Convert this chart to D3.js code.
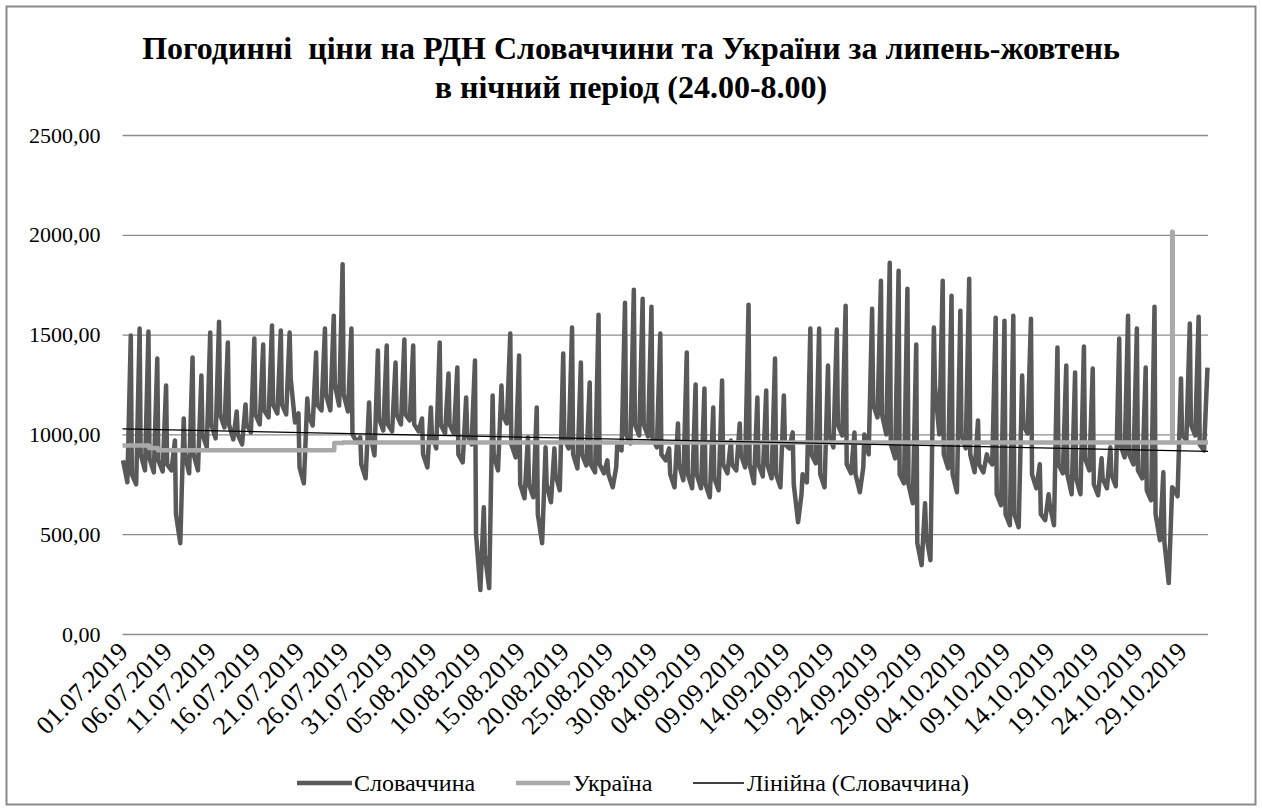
<!DOCTYPE html>
<html>
<head>
<meta charset="utf-8">
<script src="https://cdn.jsdelivr.net/npm/d3@7/dist/d3.min.js"></script>
<style>
  body { margin: 0; background: #fff; }
  svg text { font-family: "Liberation Serif", "Times New Roman", serif; fill: #000; }
</style>
</head>
<body>
<svg id="chart" width="1262" height="811"></svg>
<script>
// night hours 24.00-8.00, 01.07.2019 - 31.10.2019 (123 days)
// Slovakia: value at hour 1, night minimum, value at hour 8
const skHour1 = [870,800,900,880,870,850,600,900,900,1000,1050,1100,1050,1000,1050,1100,1120,1150,1150,1280,
  835,1100,1150,1200,1250,1200,1000,850,1000,1080,1050,1100,1100,1050,900,1000,1050,1050,900,1000,
  500,400,900,1100,950,750,750,600,750,800,980,900,900,850,850,800,950,1000,1050,1050,
  980,900,800,850,800,800,750,780,850,850,900,850,850,850,800,950,750,800,900,800,
  1000,1050,850,800,1000,1150,1100,950,800,750,455,500,1245,900,800,1000,900,850,880,700,
  600,600,1050,800,600,650,850,800,780,880,750,780,800,950,900,820,720,600,460,730,
  1000,1050,950];
const skMin = [760,750,820,810,815,820,455,805,820,935,980,1035,975,950,1010,1050,1085,1105,1100,1060,
  755,1045,1120,1120,1145,1115,960,780,895,1020,1015,1050,1070,1015,835,930,1005,1005,860,950,
  220,230,820,1055,885,680,685,455,660,720,930,830,845,810,805,735,920,955,995,990,
  935,870,735,770,730,730,685,720,805,820,835,755,790,780,735,930,560,760,855,735,
  935,995,805,710,900,1085,1000,880,755,655,345,370,1000,830,710,930,810,810,850,645,
  545,535,1005,730,570,545,805,700,700,820,695,730,740,885,850,780,670,470,255,690,
  970,995,920];
const skHour8 = [1495,1530,1515,1380,1245,970,1080,1385,1295,1510,1565,1460,1115,1150,1480,1450,1545,1520,1510,1105,
  1180,1410,1530,1595,1853,1530,985,1160,1420,1445,1360,1475,1445,1080,1135,1460,1305,1335,1185,1370,
  635,1195,1245,1505,1395,985,1135,935,930,1405,1535,1360,1260,1600,870,835,1660,1725,1680,1640,
  1505,930,1055,1410,1250,1230,1135,1270,970,1055,1650,1185,1220,1380,1195,1010,700,1530,1530,1345,
  1525,1645,1010,835,1630,1770,1860,1820,1730,1450,655,1535,1770,1695,1620,1780,1070,900,1585,1570,
  1595,1295,1580,850,700,1435,1345,1310,1440,1330,880,935,1480,1595,1530,1335,1640,810,735,1280,
  1555,1590,1335];

// Ukraine: night level per day, plus the single hour of 27.10.2019
const uaDaily = [945,945,945,932,920,920,920,920,920,920,920,920,920,920,920,920,920,920,920,920,
  920,920,920,920,957,960,960,960,960,960,960,960,960,960,960,960,960,960,960,960,
  960,960,960,960,960,960,960,960,960,960,960,960,960,960,960,960,960,960,960,960,
  960,960,960,960,960,960,960,960,960,960,960,960,960,960,960,960,960,960,960,960,
  960,960,960,960,960,960,960,960,960,960,960,960,960,960,960,960,960,960,960,960,
  960,960,960,960,960,960,960,960,960,960,960,960,960,960,960,960,960,960,960,960,
  960,960,960];
const uaSpikeDay = [118];
const uaSpikeValue = [2015];

// linear trend of Slovakia (Excel "Лінійна")
const trendValues = [1028, 915];

const xLabels = ["01.07.2019","06.07.2019","11.07.2019","16.07.2019","21.07.2019","26.07.2019","31.07.2019",
  "05.08.2019","10.08.2019","15.08.2019","20.08.2019","25.08.2019","30.08.2019","04.09.2019","09.09.2019",
  "14.09.2019","19.09.2019","24.09.2019","29.09.2019","04.10.2019","09.10.2019","14.10.2019","19.10.2019",
  "24.10.2019","29.10.2019"];
const yTicks = [0, 500, 1000, 1500, 2000, 2500];
const seriesNames = ["Словаччина", "Україна", "Лінійна (Словаччина)"];

const dayCount = skHour8.length;
const svg = d3.select("#chart");

const x = d3.scaleLinear().domain([0, dayCount]).range([122.5, 1208]);
const y = d3.scaleLinear().domain([0, 2500]).range([634, 135]);

// chart border
svg.append("rect")
  .attr("x", 6.5).attr("y", 6.5).attr("width", 1249).attr("height", 798)
  .attr("fill", "none").attr("stroke", "#8a8a8a").attr("stroke-width", 2);

// title
const title = svg.append("text")
  .attr("text-anchor", "middle")
  .style("font-weight", "bold")
  .style("font-size", "32px")
  .style("white-space", "pre");
title.append("tspan").attr("x", 631).attr("y", 59).text("Погодинні  ціни на РДН Словаччини та України за липень-жовтень");
title.append("tspan").attr("x", 631).attr("y", 98).text("в нічний період (24.00-8.00)");

// gridlines + y axis labels
const yAxis = d3.axisLeft(y)
  .tickValues(yTicks)
  .tickSize(-(x.range()[1] - x.range()[0]))
  .tickPadding(22)
  .tickFormat(d => d3.format(".2f")(d).replace(".", ","));

svg.append("g")
  .attr("transform", "translate(" + x.range()[0] + ",0)")
  .call(yAxis)
  .call(g => g.select(".domain").remove())
  .call(g => g.selectAll(".tick line").attr("stroke", "#8c8c8c").attr("stroke-width", 1.3))
  .call(g => g.selectAll(".tick text").style("font-size", "22px").attr("fill", "#000"));

// x labels, every 5 days
svg.append("g")
  .selectAll("text")
  .data(xLabels)
  .join("text")
  .attr("text-anchor", "end")
  .style("font-size", "26px")
  .attr("transform", (d, i) => "translate(" + (x(i * 5) + 7) + ",653) rotate(-45)")
  .text(d => d);

// Slovakia points: hour 1, minimum, hour 8
const skPoints = [];
for (let d = 0; d < dayCount; d++) {
  skPoints.push([d + 0.06, skHour1[d]]);
  skPoints.push([d + 0.55, skMin[d]]);
  skPoints.push([d + 0.94, skHour8[d]]);
}

// Ukraine steps
const uaPoints = [];
for (let d = 0; d < dayCount; d++) {
  uaPoints.push([d, uaDaily[d]]);
  const k = uaSpikeDay.indexOf(d);
  if (k >= 0) uaPoints.push([d + 0.94, uaSpikeValue[k]]);
}
uaPoints.push([dayCount, uaDaily[dayCount - 1]]);

const line = d3.line().x(p => x(p[0])).y(p => y(p[1]));

svg.append("path")
  .datum(skPoints)
  .attr("fill", "none")
  .attr("stroke", "#595959")
  .attr("stroke-width", 4.5)
  .attr("stroke-linejoin", "round")
  .attr("d", line);

svg.append("path")
  .datum(uaPoints)
  .attr("fill", "none")
  .attr("stroke", "#a9a9a9")
  .attr("stroke-width", 4.5)
  .attr("stroke-linejoin", "round")
  .attr("d", line.curve(d3.curveStepAfter));

svg.append("path")
  .datum([[0, trendValues[0]], [dayCount, trendValues[1]]])
  .attr("fill", "none")
  .attr("stroke", "#000")
  .attr("stroke-width", 1.3)
  .attr("d", d3.line().x(p => x(p[0])).y(p => y(p[1])));

// legend
const legendItems = [
  {name: seriesNames[0], color: "#595959", width: 4.5, x0: 297, x1: 352, tx: 354},
  {name: seriesNames[1], color: "#a9a9a9", width: 4.5, x0: 516, x1: 570, tx: 573},
  {name: seriesNames[2], color: "#000", width: 1.3, x0: 693, x1: 744, tx: 747}
];
const legend = svg.append("g");
legendItems.forEach(it => {
  legend.append("line")
    .attr("x1", it.x0).attr("x2", it.x1).attr("y1", 783).attr("y2", 783)
    .attr("stroke", it.color).attr("stroke-width", it.width);
  legend.append("text")
    .attr("x", it.tx).attr("y", 791)
    .style("font-size", "24px")
    .text(it.name);
});
</script>
</body>
</html>
